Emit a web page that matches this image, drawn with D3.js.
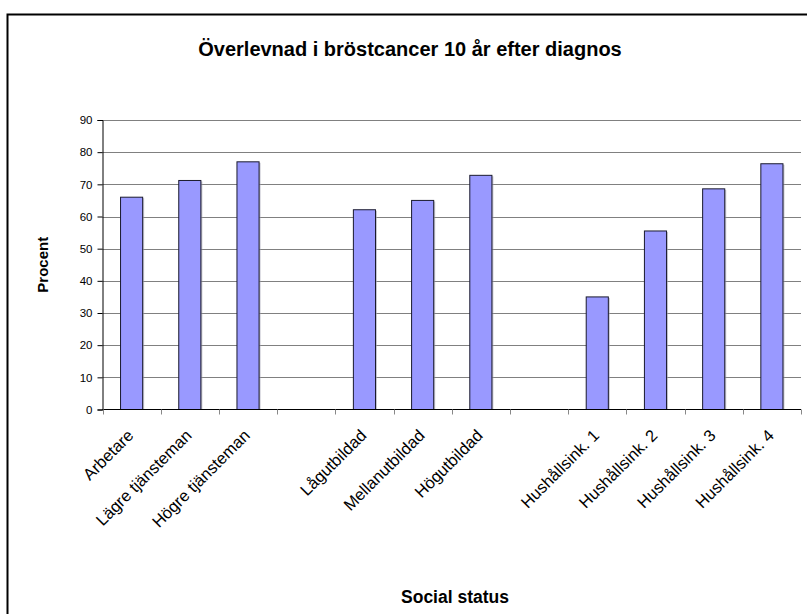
<!DOCTYPE html>
<html>
<head>
<meta charset="utf-8">
<script src="https://cdn.jsdelivr.net/npm/d3@7"></script>
<style>
  html, body { margin: 0; padding: 0; background: #fff; }
  svg { display: block; }
  text { font-family: "Liberation Sans", Arial, sans-serif; fill: #000; }
</style>
</head>
<body>
<svg id="chart" width="807" height="614"></svg>
<script>
// Survival ten years after breast cancer diagnosis, by social status.
// Empty category names are spacer slots between the three groups.
const categories = [
  "Arbetare", "Lägre tjänsteman", "Högre tjänsteman", "",
  "Lågutbildad", "Mellanutbildad", "Högutbildad", "",
  "Hushållsink. 1", "Hushållsink. 2", "Hushållsink. 3", "Hushållsink. 4"
];
const values = [66, 71.2, 77, null, 62.1, 65, 72.8, null, 35, 55.5, 68.6, 76.4];
const yTicks = [0, 10, 20, 30, 40, 50, 60, 70, 80, 90];

const titleText = "Överlevnad i bröstcancer 10 år efter diagnos";
const xTitle = "Social status";
const yTitle = "Procent";

const svg = d3.select("#chart");

// Outer chart frame (runs off the right and bottom edges)
svg.append("rect")
  .attr("x", 7.5).attr("y", 14.5)
  .attr("width", 820).attr("height", 620)
  .attr("fill", "#fff")
  .attr("stroke", "#000").attr("stroke-width", 2);

const plot = { left: 102.5, right: 801, top: 120, bottom: 409.5 };

const x = d3.scaleBand()
  .domain(d3.range(categories.length))
  .range([plot.left, plot.right])
  .paddingInner(0.62)
  .paddingOuter(0.31);

const slot = d3.scaleBand()
  .domain(d3.range(categories.length))
  .range([plot.left, plot.right])
  .padding(0);

const y = d3.scaleLinear().domain([0, 90]).range([plot.bottom, plot.top]);

// Horizontal gridlines
svg.append("g")
  .selectAll("line")
  .data(yTicks.filter(d => d > 0))
  .join("line")
  .attr("x1", plot.left).attr("x2", plot.right)
  .attr("y1", d => Math.round(y(d)) + 0.5).attr("y2", d => Math.round(y(d)) + 0.5)
  .attr("stroke", "#808080").attr("stroke-width", 1);

// Bars with a faint shadow
const barData = values.map((v, i) => ({ i, v })).filter(d => d.v !== null);

svg.append("g")
  .selectAll("rect")
  .data(barData)
  .join("rect")
  .attr("x", d => x(d.i) + 1.5)
  .attr("y", d => y(d.v) + 1)
  .attr("width", x.bandwidth())
  .attr("height", d => y(0) - y(d.v) - 1)
  .attr("fill", "#a0a0b0").attr("opacity", 0.6);

svg.append("g")
  .selectAll("rect")
  .data(barData)
  .join("rect")
  .attr("x", d => x(d.i))
  .attr("y", d => y(d.v))
  .attr("width", x.bandwidth())
  .attr("height", d => y(0) - y(d.v))
  .attr("fill", "#9999FF")
  .attr("stroke", "#1a1a2e").attr("stroke-width", 1);

// Y axis
const yAxis = svg.append("g")
  .attr("transform", `translate(${plot.left},0)`)
  .call(d3.axisLeft(y).tickValues(yTicks).tickSize(5).tickPadding(5));
yAxis.select(".domain").attr("stroke", "#000");
yAxis.selectAll(".tick line").attr("stroke", "#000");
yAxis.selectAll(".tick text")
  .attr("font-size", 11.5)
  .attr("font-family", "Liberation Sans, Arial, sans-serif");

// X axis: line plus tick marks on slot boundaries
const xg = svg.append("g");
xg.append("line")
  .attr("x1", plot.left).attr("x2", plot.right)
  .attr("y1", plot.bottom).attr("y2", plot.bottom)
  .attr("stroke", "#000").attr("stroke-width", 1.2);
const bounds = d3.range(categories.length + 1).map(i => i < categories.length ? slot(i) : plot.right);
xg.selectAll("line.tk")
  .data(bounds)
  .join("line")
  .attr("class", "tk")
  .attr("x1", d => Math.round(d) + 0.5).attr("x2", d => Math.round(d) + 0.5)
  .attr("y1", plot.bottom).attr("y2", plot.bottom + 5)
  .attr("stroke", "#888");

// Rotated category labels
xg.selectAll("text.cat")
  .data(categories.map((c, i) => ({ c, i })).filter(d => d.c !== ""))
  .join("text")
  .attr("class", "cat")
  .attr("font-size", 16.5)
  .attr("text-anchor", "end")
  .attr("transform", d => `translate(${slot(d.i) + slot.bandwidth() / 2 + 3},${plot.bottom + 27}) rotate(-45)`)
  .text(d => d.c);

// Titles
svg.append("text")
  .attr("x", 410).attr("y", 56)
  .attr("text-anchor", "middle")
  .attr("font-size", 20).attr("font-weight", "bold")
  .text(titleText);

svg.append("text")
  .attr("x", 455).attr("y", 603)
  .attr("text-anchor", "middle")
  .attr("font-size", 17.5).attr("font-weight", "bold")
  .text(xTitle);

svg.append("text")
  .attr("transform", `translate(48,${(plot.top + plot.bottom) / 2}) rotate(-90)`)
  .attr("text-anchor", "middle")
  .attr("font-size", 15).attr("font-weight", "bold")
  .text(yTitle);
</script>
</body>
</html>
